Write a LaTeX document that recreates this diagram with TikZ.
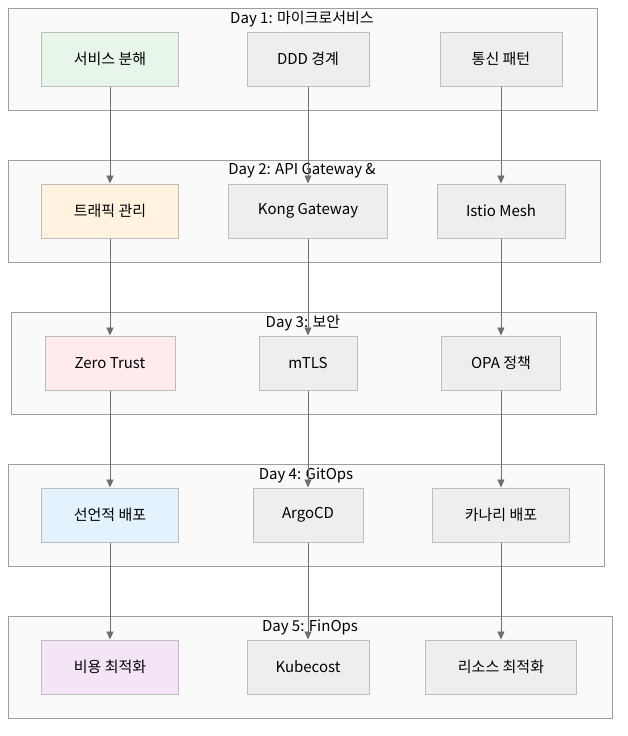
\documentclass[tikz,border=0pt]{standalone}
\usepackage{fontspec}
\setmainfont{Noto Sans CJK KR}
\usetikzlibrary{arrows.meta}
\definecolor{clusterbg}{HTML}{FAFAFA}
\definecolor{clusterline}{HTML}{9E9E9E}
\definecolor{boxbg}{HTML}{EEEEEE}
\definecolor{boxline}{HTML}{BDBDBD}
\definecolor{flow}{HTML}{6E6E6E}
\definecolor{greenbg}{HTML}{E8F5E9}
\definecolor{orangebg}{HTML}{FFF3E0}
\definecolor{pinkbg}{HTML}{FFEBEE}
\definecolor{bluebg}{HTML}{E3F2FD}
\definecolor{purplebg}{HTML}{F3E5F5}
\tikzset{
  cluster/.style={draw=clusterline, fill=clusterbg, line width=1pt},
  daytitle/.style={font=\fontsize{15}{17}\selectfont, inner sep=0pt},
  box/.style={draw=boxline, fill=boxbg, line width=1pt, minimum height=54pt,
    font=\fontsize{15}{17}\selectfont, inner sep=0pt},
  flowline/.style={draw=flow, line width=0.9pt, -{Triangle[length=8pt,width=7pt]}}
}
\begin{document}
\begin{tikzpicture}[x=1pt,y=-1pt]
  \useasboundingbox (0,0) rectangle (628,736);

  % day clusters
  \draw[cluster] (8,8) rectangle (597,110);
  \draw[cluster] (8,160) rectangle (600,262);
  \draw[cluster] (11,312) rectangle (596,414);
  \draw[cluster] (8,464) rectangle (604,566);
  \draw[cluster] (8,616) rectangle (612,718);

  \node[daytitle] (t1) at (302,19) {Day 1: 마이크로서비스};
  \node[daytitle] (t2) at (302,171) {Day 2: API Gateway \&};
  \node[daytitle] (t3) at (303,323) {Day 3: 보안};
  \node[daytitle] (t4) at (306,475) {Day 4: GitOps};
  \node[daytitle] (t5) at (310,627) {Day 5: FinOps};

  % day 1
  \node[box, fill=greenbg, minimum width=137pt] (decomp) at (110,59) {서비스 분해};
  \node[box, minimum width=122pt] (ddd) at (308,59) {DDD 경계};
  \node[box, minimum width=122pt] (comm) at (501,59) {통신 패턴};

  % day 2
  \node[box, fill=orangebg, minimum width=137pt] (traffic) at (110,211) {트래픽 관리};
  \node[box, minimum width=159pt] (kong) at (308,211) {Kong Gateway};
  \node[box, minimum width=128pt] (istio) at (501,211) {Istio Mesh};

  % day 3
  \node[box, fill=pinkbg, minimum width=130pt] (zerotrust) at (110,363) {Zero Trust};
  \node[box, minimum width=98pt] (mtls) at (308,363) {mTLS};
  \node[box, minimum width=119pt] (opa) at (501,363) {OPA 정책};

  % day 4
  \node[box, fill=bluebg, minimum width=137pt] (decl) at (110,515) {선언적 배포};
  \node[box, minimum width=110pt] (argo) at (308,515) {ArgoCD};
  \node[box, minimum width=137pt] (canary) at (501,515) {카나리 배포};

  % day 5
  \node[box, fill=purplebg, minimum width=137pt] (cost) at (110,667) {비용 최적화};
  \node[box, minimum width=122pt] (kubecost) at (308,667) {Kubecost};
  \node[box, minimum width=151pt] (resource) at (501,667) {리소스 최적화};

  \draw[flowline] (decomp) -- (traffic);
  \draw[flowline] (ddd) -- (kong);
  \draw[flowline] (comm) -- (istio);
  \draw[flowline] (traffic) -- (zerotrust);
  \draw[flowline] (kong) -- (mtls);
  \draw[flowline] (istio) -- (opa);
  \draw[flowline] (zerotrust) -- (decl);
  \draw[flowline] (mtls) -- (argo);
  \draw[flowline] (opa) -- (canary);
  \draw[flowline] (decl) -- (cost);
  \draw[flowline] (argo) -- (kubecost);
  \draw[flowline] (canary) -- (resource);

\end{tikzpicture}
\end{document}
